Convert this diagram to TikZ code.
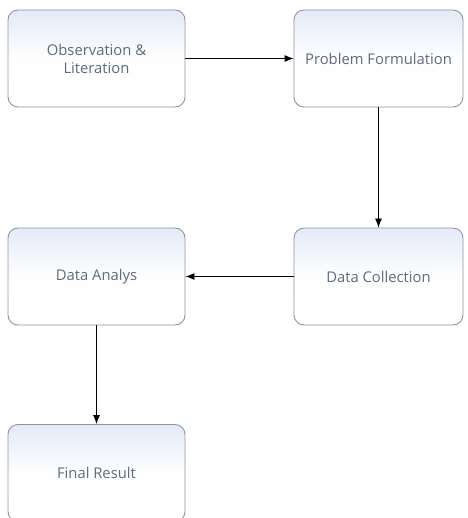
\documentclass[tikz,border=0pt]{standalone}
\usepackage{fontspec}
\setmainfont{Open Sans}
\usetikzlibrary{arrows.meta}
\definecolor{boxline}{HTML}{8A96A6}
\definecolor{boxtop}{HTML}{E4EAF7}
\definecolor{boxtext}{HTML}{5E6B7B}
\begin{document}
\begin{tikzpicture}[x=1pt,y=-1pt]
        \tikzset{
            stage/.style={draw=boxline, line width=0.9pt, rounded corners=10pt,
                top color=boxtop, bottom color=white, middle color=white!96!boxtop,
                text=boxtext, align=center, font=\fontsize{14.8}{18}\selectfont,
                minimum width=177pt, minimum height=97pt, inner sep=0pt},
            flow/.style={-{Latex[length=9pt,width=7pt]}, line width=0.9pt}
        }
        \useasboundingbox (0,0) rectangle (467,518);

        \node[stage] (obs) at (96.5,58.5) {Observation \&\\Literation};
        \node[stage, minimum width=169pt] (prob) at (378.5,58.5) {Problem Formulation};
        \node[stage] (anal) at (96.5,276.5) {Data Analys};
        \node[stage, minimum width=169pt] (coll) at (378.5,276.5) {Data Collection};
        \node[stage] (final) at (96.5,473) {Final Result};

        \draw[flow] (obs) -- (prob);
        \draw[flow] (prob) -- (coll);
        \draw[flow] (coll) -- (anal);
        \draw[flow] (anal) -- (final);
    \end{tikzpicture}
\end{document}
